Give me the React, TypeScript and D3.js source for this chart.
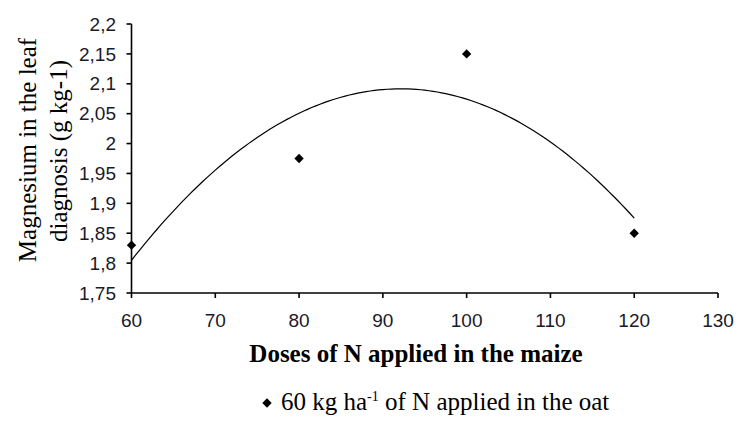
import React from "react";
import * as d3 from "d3";

const doses = [60, 80, 100, 120];
const magnesium = [1.83, 1.975, 2.15, 1.85];
const xTicks = [60, 70, 80, 90, 100, 110, 120, 130];
const yTicks = [1.75, 1.8, 1.85, 1.9, 1.95, 2, 2.05, 2.1, 2.15, 2.2];

// least-squares quadratic fit of the observed points (Excel-style polynomial trendline)
function quadFit(xs: number[], ys: number[]) {
  const n = xs.length;
  let s = [0, 0, 0, 0, 0];
  let t = [0, 0, 0];
  for (let i = 0; i < n; i++) {
    for (let k = 0; k <= 4; k++) s[k] += Math.pow(xs[i], k);
    for (let k = 0; k <= 2; k++) t[k] += ys[i] * Math.pow(xs[i], k);
  }
  const A = [
    [s[0], s[1], s[2], t[0]],
    [s[1], s[2], s[3], t[1]],
    [s[2], s[3], s[4], t[2]],
  ];
  for (let i = 0; i < 3; i++) {
    let p = i;
    for (let r = i + 1; r < 3; r++) if (Math.abs(A[r][i]) > Math.abs(A[p][i])) p = r;
    [A[i], A[p]] = [A[p], A[i]];
    for (let r = 0; r < 3; r++) {
      if (r === i) continue;
      const f = A[r][i] / A[i][i];
      for (let c = i; c < 4; c++) A[r][c] -= f * A[i][c];
    }
  }
  const coef = [A[0][3] / A[0][0], A[1][3] / A[1][1], A[2][3] / A[2][2]];
  return (x: number) => coef[0] + coef[1] * x + coef[2] * x * x;
}

export default function App() {
  const W = 740, H = 421;
  const x = d3.scaleLinear().domain([60, 130]).range([131.5, 718]);
  const y = d3.scaleLinear().domain([1.75, 2.2]).range([293, 24]);
  const fit = quadFit(doses, magnesium);
  const curvePts = d3.range(60, 120.01, 0.5).map((v) => [v, fit(v)] as [number, number]);
  const line = d3.line<[number, number]>().x((d) => x(d[0])).y((d) => y(d[1]));
  const fmt = (v: number) => String(+v.toFixed(2)).replace(".", ",");
  const diamond = d3.symbol().type(d3.symbolSquare).size(44)();
  const tickFont = "'Liberation Sans', Arial, sans-serif";
  const serif = "'Liberation Serif', 'Times New Roman', serif";

  return (
    <svg width={W} height={H} style={{ position: "absolute", left: 0, top: 0, background: "#fff" }}>
      {/* axes */}
      <line x1={x(60)} x2={x(60)} y1={y(2.2)} y2={y(1.75)} stroke="#000" strokeWidth={1.6} />
      <line x1={x(60)} x2={x(130)} y1={y(1.75)} y2={y(1.75)} stroke="#000" strokeWidth={1.6} />
      {yTicks.map((t) => (
        <g key={"y" + t}>
          <line x1={x(60) - 5} x2={x(60)} y1={y(t)} y2={y(t)} stroke="#000" strokeWidth={1.6} />
          <text x={116} y={y(t)} dy="0.35em" textAnchor="end" fontFamily={tickFont} fontSize={19} fill="#1a1a2a">
            {fmt(t)}
          </text>
        </g>
      ))}
      {xTicks.map((t) => (
        <g key={"x" + t}>
          <line x1={x(t)} x2={x(t)} y1={y(1.75)} y2={y(1.75) + 5} stroke="#000" strokeWidth={1.6} />
          <text x={x(t)} y={320} dy="0.35em" textAnchor="middle" fontFamily={tickFont} fontSize={19} fill="#1a1a2a">
            {t}
          </text>
        </g>
      ))}
      {/* trend line */}
      <path d={line(curvePts) || ""} fill="none" stroke="#000" strokeWidth={1.2} />
      {/* points */}
      {doses.map((d, i) => (
        <path key={"p" + i} d={diamond || ""} transform={`translate(${x(d)},${y(magnesium[i])}) rotate(45)`} fill="#000" />
      ))}
      {/* y title */}
      <g transform="translate(27,150) rotate(-90)">
        <text textAnchor="middle" dy="0.35em" fontFamily={serif} fontSize={25} fill="#000">
          Magnesium in the leaf
        </text>
      </g>
      <g transform="translate(58,151) rotate(-90)">
        <text textAnchor="middle" dy="0.35em" fontFamily={serif} fontSize={25} fill="#000">
          diagnosis (g kg-1)
        </text>
      </g>
      {/* x title */}
      <text x={416} y={362} textAnchor="middle" fontFamily={serif} fontSize={25} fontWeight="bold" fill="#000">
        Doses of N applied in the maize
      </text>
      {/* legend */}
      <path d={diamond || ""} transform="translate(267,403) rotate(45)" fill="#000" />
      <text x={281} y={410} fontFamily={serif} fontSize={25} fill="#000">
        60 kg ha<tspan dy={-9} fontSize={14}>-1</tspan>
        <tspan dy={9}> of N applied in the oat</tspan>
      </text>
    </svg>
  );
}
